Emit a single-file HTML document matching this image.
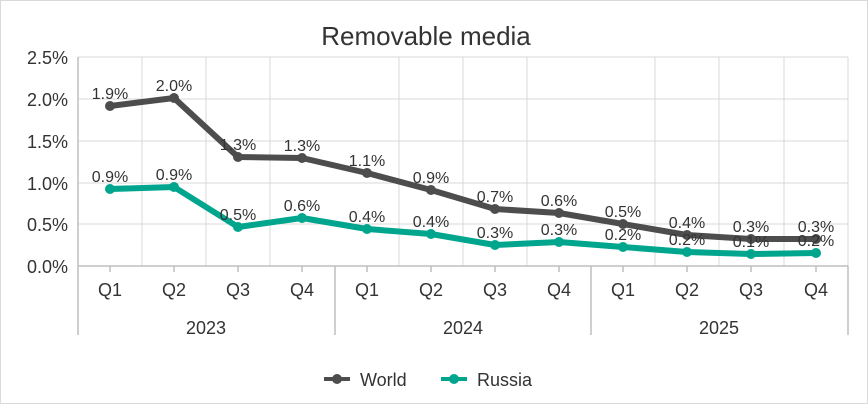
<!DOCTYPE html><html><head><style>body{margin:0;background:#fff}svg{display:block}text{font-family:"Liberation Sans",sans-serif;fill:#333}</style></head><body>
<svg width="868" height="404" viewBox="0 0 868 404">
<rect x="0.5" y="0.5" width="867" height="403" fill="#fff" stroke="#d9d9d9"/>
<text x="426" y="45" font-size="26" text-anchor="middle">Removable media</text>
<g stroke="#d9d9d9" stroke-width="1">
<line x1="78" x2="848" y1="57" y2="57"/><line x1="78" x2="848" y1="99" y2="99"/><line x1="78" x2="848" y1="141" y2="141"/><line x1="78" x2="848" y1="183" y2="183"/><line x1="78" x2="848" y1="224" y2="224"/>
<line x1="142" x2="142" y1="57" y2="266"/><line x1="206" x2="206" y1="57" y2="266"/><line x1="270" x2="270" y1="57" y2="266"/><line x1="399" x2="399" y1="57" y2="266"/><line x1="463" x2="463" y1="57" y2="266"/><line x1="527" x2="527" y1="57" y2="266"/><line x1="655" x2="655" y1="57" y2="266"/><line x1="719" x2="719" y1="57" y2="266"/><line x1="784" x2="784" y1="57" y2="266"/><line x1="848" x2="848" y1="57" y2="266"/>
</g>
<g stroke="#bfbfbf" stroke-width="1.5">
<line x1="78" x2="848" y1="266" y2="266"/>
<line x1="78" x2="78" y1="57" y2="335"/><line x1="335" x2="335" y1="266" y2="335"/><line x1="591" x2="591" y1="266" y2="335"/><line x1="848" x2="848" y1="266" y2="335"/>
<line x1="110" x2="110" y1="266" y2="272"/><line x1="174" x2="174" y1="266" y2="272"/><line x1="238" x2="238" y1="266" y2="272"/><line x1="302" x2="302" y1="266" y2="272"/><line x1="367" x2="367" y1="266" y2="272"/><line x1="431" x2="431" y1="266" y2="272"/><line x1="495" x2="495" y1="266" y2="272"/><line x1="559" x2="559" y1="266" y2="272"/><line x1="623" x2="623" y1="266" y2="272"/><line x1="687" x2="687" y1="266" y2="272"/><line x1="751" x2="751" y1="266" y2="272"/><line x1="816" x2="816" y1="266" y2="272"/>
</g>
<g font-size="18" text-anchor="end">
<text x="68" y="64">2.5%</text><text x="68" y="106">2.0%</text><text x="68" y="148">1.5%</text><text x="68" y="190">1.0%</text><text x="68" y="231">0.5%</text><text x="68" y="273">0.0%</text>
</g>
<g font-size="18" text-anchor="middle">
<text x="110" y="296">Q1</text><text x="174" y="296">Q2</text><text x="238" y="296">Q3</text><text x="302" y="296">Q4</text><text x="367" y="296">Q1</text><text x="431" y="296">Q2</text><text x="495" y="296">Q3</text><text x="559" y="296">Q4</text><text x="623" y="296">Q1</text><text x="687" y="296">Q2</text><text x="751" y="296">Q3</text><text x="816" y="296">Q4</text>
<text x="206" y="334">2023</text><text x="463" y="334">2024</text><text x="719" y="334">2025</text>
</g>
<polyline fill="none" stroke="#4d4d4d" stroke-width="6" stroke-linejoin="round" points="110,106 174,98 238,157 302,158 367,173 431,190 495,209 559,213 623,224 687,235 751,239 816,239"/>
<polyline fill="none" stroke="#00a58e" stroke-width="6" stroke-linejoin="round" points="110,189 174,187 238,227 302,218 367,229 431,234 495,245 559,242 623,247 687,252 751,254 816,253"/>
<g fill="#4d4d4d"><circle cx="110" cy="106" r="5"/><circle cx="174" cy="98" r="5"/><circle cx="238" cy="157" r="5"/><circle cx="302" cy="158" r="5"/><circle cx="367" cy="173" r="5"/><circle cx="431" cy="190" r="5"/><circle cx="495" cy="209" r="5"/><circle cx="559" cy="213" r="5"/><circle cx="623" cy="224" r="5"/><circle cx="687" cy="235" r="5"/><circle cx="751" cy="239" r="5"/><circle cx="816" cy="239" r="5"/></g>
<g fill="#00a58e"><circle cx="110" cy="189" r="5"/><circle cx="174" cy="187" r="5"/><circle cx="238" cy="227" r="5"/><circle cx="302" cy="218" r="5"/><circle cx="367" cy="229" r="5"/><circle cx="431" cy="234" r="5"/><circle cx="495" cy="245" r="5"/><circle cx="559" cy="242" r="5"/><circle cx="623" cy="247" r="5"/><circle cx="687" cy="252" r="5"/><circle cx="751" cy="254" r="5"/><circle cx="816" cy="253" r="5"/></g>
<g font-size="16" text-anchor="middle" style="fill:#222">
<text x="110" y="99">1.9%</text><text x="174" y="91">2.0%</text><text x="238" y="150">1.3%</text><text x="302" y="151">1.3%</text><text x="367" y="166">1.1%</text><text x="431" y="183">0.9%</text><text x="495" y="202">0.7%</text><text x="559" y="206">0.6%</text><text x="623" y="217">0.5%</text><text x="687" y="228">0.4%</text><text x="751" y="232">0.3%</text><text x="816" y="232">0.3%</text>
<text x="110" y="182">0.9%</text><text x="174" y="180">0.9%</text><text x="238" y="220">0.5%</text><text x="302" y="211">0.6%</text><text x="367" y="222">0.4%</text><text x="431" y="227">0.4%</text><text x="495" y="238">0.3%</text><text x="559" y="235">0.3%</text><text x="623" y="240">0.2%</text><text x="687" y="245">0.2%</text><text x="751" y="247">0.1%</text><text x="816" y="246">0.2%</text>
</g>
<line x1="324" x2="350" y1="379" y2="379" stroke="#4d4d4d" stroke-width="4"/><circle cx="337" cy="379" r="5" fill="#4d4d4d"/>
<text x="360" y="386" font-size="18">World</text>
<line x1="441" x2="467" y1="379" y2="379" stroke="#00a58e" stroke-width="4"/><circle cx="454" cy="379" r="5" fill="#00a58e"/>
<text x="477" y="386" font-size="18">Russia</text>
</svg></body></html>
